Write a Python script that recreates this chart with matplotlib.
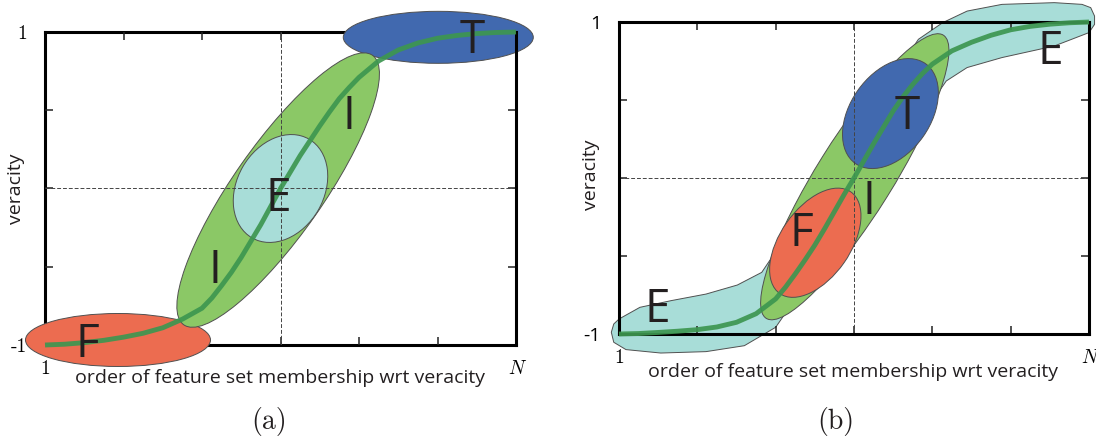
import numpy as np
import matplotlib
matplotlib.use("Agg")
import matplotlib.pyplot as plt
from matplotlib.patches import Ellipse, Polygon
from matplotlib.transforms import Affine2D

W, H, DPI = 1096, 440, 100

# ── curve (order x in 0..6, veracity -1..1) ──────────────────────────────────
curve_x   = [0, 0.25, 0.5, 0.75, 1.0, 1.25, 1.5, 1.75, 2.0, 2.125, 2.25, 2.375,
             2.5, 2.625, 2.75, 2.875, 3.0, 3.125, 3.25, 3.375, 3.5, 3.625, 3.75,
             3.875, 4.0, 4.25, 4.5, 4.75, 5.0, 5.25, 5.5, 5.75, 6.0]
curve_a_y = [-1, -0.995, -0.985, -0.97, -0.95, -0.925, -0.89, -0.835, -0.765,
             -0.70, -0.62, -0.535, -0.44, -0.335, -0.23, -0.115, 0.0, 0.105,
             0.21, 0.305, 0.40, 0.49, 0.575, 0.645, 0.71, 0.815, 0.885, 0.93,
             0.96, 0.978, 0.99, 0.997, 1.0]
curve_b_y = [-1, -0.997, -0.99, -0.982, -0.972, -0.955, -0.925, -0.87, -0.775,
             -0.70, -0.615, -0.525, -0.43, -0.325, -0.215, -0.105, 0.0, 0.11,
             0.22, 0.325, 0.43, 0.52, 0.60, 0.67, 0.73, 0.815, 0.87, 0.915,
             0.95, 0.972, 0.986, 0.995, 1.0]

# ellipses: centre (data), width/height (px), angle (deg)
ell_a = [  # name, cx, cy, w, h, angle, colour
    ("F", 0.93, -0.968, 185, 53, 0, "#ec6c50"),
    ("T", 5.01, 0.966, 190, 52, 0, "#4169af"),
    ("I", 2.97, -0.01, 329, 90, 55, "#8bc866"),
    ("E", 3.00, 0.0, 114, 87, 60, "#a8ddd8"),
]
ell_b = [
    ("I", 3.01, 0.008, 334, 76, 58, "#8bc866"),
    ("F", 2.506, -0.415, 124, 70, 55, "#ec6c50"),
    ("T", 3.465, 0.413, 122, 80, 55, "#4169af"),
]
# E band of panel (b), outline in data coords
band_x = [-0.067, -0.098, -0.067, 0.0, 0.267, 0.667, 1.111, 1.511, 1.822, 3.822,
          4.133, 4.444, 4.889, 5.556, 5.911, 6.022, 6.071, 6.071, 6.0, 5.556,
          4.889, 4.444, 4.178, 2.0, 1.6, 1.111, 0.533, 0.089]
band_y = [-1.053, -0.989, -0.936, -0.904, -0.829, -0.786, -0.744, -0.686, -0.605,
          0.889, 0.996, 1.070, 1.113, 1.124, 1.113, 1.092, 1.038, 0.985, 0.932,
          0.846, 0.772, 0.708, 0.622, -0.957, -1.075, -1.113, -1.122, -1.100]

# big letters: text, x, baseline y
let_a = [("F", 0.545, -1.075), ("T", 5.44, 0.868), ("I", 3.867, 0.377),
         ("E", 2.973, -0.146), ("I", 2.168, -0.601)]
let_b = [("E", 0.489, -0.921), ("F", 2.324, -0.434), ("I", 3.187, -0.232),
         ("T", 3.676, 0.317), ("E", 5.511, 0.729)]

SANS = ["Open Sans", "DejaVu Sans"]
INK = "#231f20"
CURVE = "#3d9650"


def px_box(left, top, w, h):
    return [left / W, (H - top - h) / H, w / W, h / H]


def add_ellipse(ax, cx, cy, w, h, ang, col, z):
    pos = ax.get_position()
    sx = pos.width * W / 6.0
    sy = pos.height * H / 2.0
    tr = Affine2D().scale(1 / sx, 1 / sy) + ax.transData
    e = Ellipse((cx * sx, cy * sy), w, h, angle=ang, transform=tr, facecolor=col,
                edgecolor="#505050", lw=0.7, zorder=z, clip_on=False)
    ax.add_patch(e)


def setup(ax, ysans):
    ax.set_xlim(0, 6)
    ax.set_ylim(-1, 1)
    ax.set_xticks([0, 6])
    ax.set_xticklabels(["1", "N"])
    ax.set_yticks([-1, 1])
    ax.set_yticklabels(["-1", "1"])
    ax.set_xticks([1, 2, 3, 4, 5], minor=True)
    ax.set_yticks([-0.5, 0, 0.5], minor=True)
    ax.tick_params(which="major", length=0, labelsize=14)
    ax.tick_params(axis="x", which="major", pad=11)
    ax.tick_params(axis="y", which="major", pad=13)
    ax.tick_params(which="minor", direction="in", length=6, width=1.1,
                   top=True, right=True, color="#222222")
    xl = ax.get_xticklabels()
    xl[0].set_fontfamily("cmr10")
    xl[1].set_fontfamily("cmmi10")
    for t in ax.get_yticklabels():
        t.set_fontfamily(SANS if ysans else "cmr10")
    for s in ax.spines.values():
        s.set_linewidth(2.2)
    ax.axvline(3, color="#444444", lw=0.7, ls=(0, (4, 2)), zorder=4)
    ax.axhline(0, color="#444444", lw=0.7, ls=(0, (4, 2)), zorder=4)


fig = plt.figure(figsize=(W / DPI, H / DPI), dpi=DPI)
ax_a = fig.add_axes(px_box(45, 32, 471, 313))
ax_b = fig.add_axes(px_box(619, 22, 470, 312))

# ── panel (a) ────────────────────────────────────────────────────────────────
setup(ax_a, ysans=False)
for name, sp in ax_a.spines.items():
    sp.set_zorder(5 if name == "right" else 1)
for k, (nm, cx, cy, w, h, ang, col) in enumerate(ell_a):
    add_ellipse(ax_a, cx, cy, w, h, ang, col, 2 + 0.1 * k)
ax_a.plot(curve_x, curve_a_y, color=CURVE, lw=3.5, alpha=0.92, zorder=6,
          solid_capstyle="butt", solid_joinstyle="round", clip_on=False)
for s, x, y in let_a:
    ax_a.text(x, y, s, fontsize=33, family=SANS, color=INK, ha="center",
              va="baseline", zorder=7)
ax_a.text(-0.062, 0.5, "veracity", transform=ax_a.transAxes, rotation=90,
          ha="center", va="center", fontsize=14, family=SANS, color=INK)
ax_a.text(0.498, -0.105, "order of feature set membership wrt veracity",
          transform=ax_a.transAxes, ha="center", va="center", fontsize=14,
          family=SANS, color=INK)
ax_a.text(0.476, -0.246, "(a)", transform=ax_a.transAxes, ha="center",
          va="center", fontsize=20, family="cmr10", color=INK)

# ── panel (b) ────────────────────────────────────────────────────────────────
setup(ax_b, ysans=True)
for sp in ax_b.spines.values():
    sp.set_zorder(5)
ax_b.add_patch(Polygon(np.column_stack([band_x, band_y]), closed=True,
                       facecolor="#a8ddd8", edgecolor="#505050", lw=0.7,
                       joinstyle="round", zorder=1.5, clip_on=False))
for k, (nm, cx, cy, w, h, ang, col) in enumerate(ell_b):
    add_ellipse(ax_b, cx, cy, w, h, ang, col, 2 + 0.1 * k)
ax_b.plot(curve_x, curve_b_y, color=CURVE, lw=3.5, alpha=0.92, zorder=6,
          solid_capstyle="butt", solid_joinstyle="round", clip_on=False)
for s, x, y in let_b:
    ax_b.text(x, y, s, fontsize=33, family=SANS, color=INK, ha="center",
              va="baseline", zorder=7)
ax_b.text(-0.06, 0.51, "veracity", transform=ax_b.transAxes, rotation=90,
          ha="center", va="center", fontsize=14, family=SANS, color=INK)
ax_b.text(0.498, -0.122, "order of feature set membership wrt veracity",
          transform=ax_b.transAxes, ha="center", va="center", fontsize=14,
          family=SANS, color=INK)
ax_b.text(0.462, -0.282, "(b)", transform=ax_b.transAxes, ha="center",
          va="center", fontsize=20, family="cmr10", color=INK)

fig.savefig("out.png", dpi=DPI)
